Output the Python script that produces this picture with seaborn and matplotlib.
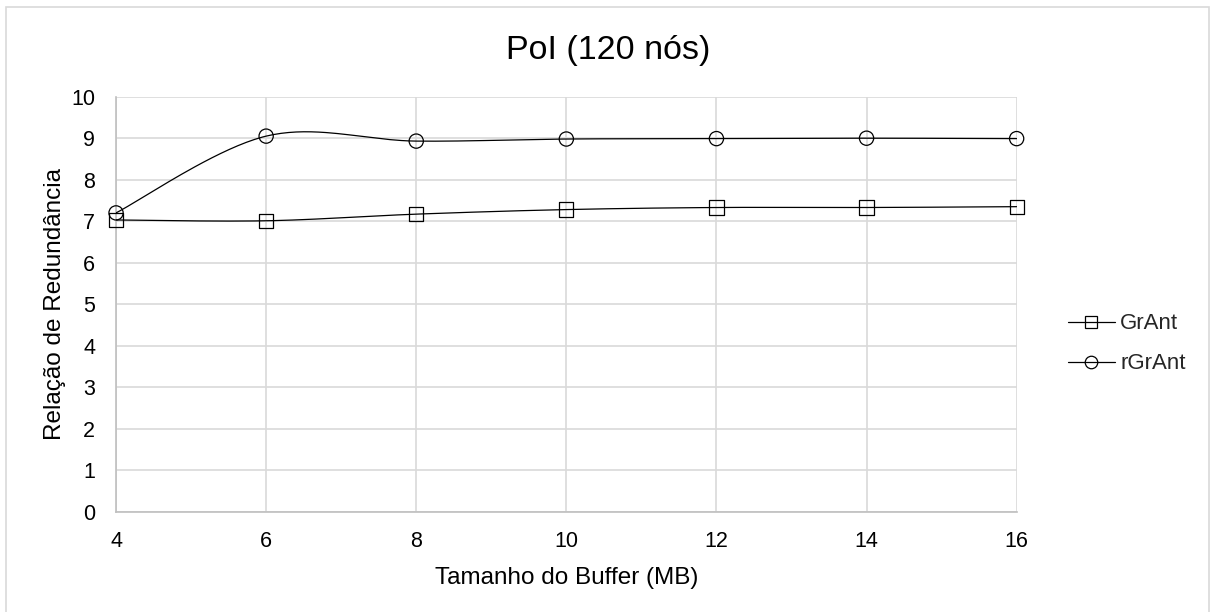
import numpy as np
import pandas as pd
import matplotlib
matplotlib.use("Agg")
import matplotlib.pyplot as plt
from matplotlib.lines import Line2D
from matplotlib.patches import Rectangle
import seaborn as sns

# Buffer sizes (MB) and redundancy ratios per protocol
buffer_mb = [4, 6, 8, 10, 12, 14, 16]
grant = [7.03, 7.01, 7.17, 7.28, 7.33, 7.33, 7.35]
rgrant = [7.20, 9.05, 8.93, 8.98, 8.99, 9.00, 8.99]

series_names = ["GrAnt", "rGrAnt"]
title = "PoI (120 nós)"
xlabel = "Tamanho do Buffer (MB)"
ylabel = "Relação de Redundância"

sns.set_theme(style="white")
plt.rcParams["font.family"] = ["Liberation Sans", "DejaVu Sans"]


def smooth_curve(xs, ys, steps=40):
    """Bezier smoothing through every point (spreadsheet-style smoothed line)."""
    pts = np.column_stack([xs, ys]).astype(float)
    n = len(pts)
    out = []
    for i in range(n - 1):
        p0 = pts[i - 1] if i > 0 else pts[i]
        p1 = pts[i]
        p2 = pts[i + 1]
        p3 = pts[i + 2] if i + 2 < n else pts[i + 1]
        c1 = p1 + (p2 - p0) / 6.0
        c2 = p2 - (p3 - p1) / 6.0
        t = np.linspace(0, 1, steps, endpoint=(i == n - 2))[:, None]
        seg = ((1 - t) ** 3) * p1 + 3 * ((1 - t) ** 2) * t * c1 \
            + 3 * (1 - t) * t ** 2 * c2 + t ** 3 * p2
        out.append(seg)
    out = np.vstack(out)
    return out[:, 0], out[:, 1]


fig = plt.figure(figsize=(12.1, 6.12), dpi=100)
ax = fig.add_axes([0.0959, 0.1639, 0.7443, 0.6781])

markers = {"GrAnt": "s", "rGrAnt": "o"}
values = {"GrAnt": grant, "rGrAnt": rgrant}

for name in series_names:
    sx, sy = smooth_curve(buffer_mb, values[name])
    curve = pd.DataFrame({"x": sx, "y": sy})
    sns.lineplot(data=curve, x="x", y="y", sort=False, color="black",
                 linewidth=0.9, ax=ax, legend=False, zorder=3)
    pts = pd.DataFrame({"x": buffer_mb, "y": values[name]})
    sns.scatterplot(data=pts, x="x", y="y", marker=markers[name], s=105,
                    facecolor="none", edgecolor="black", linewidth=0.9,
                    ax=ax, legend=False, zorder=4, clip_on=False)

ax.set_xlim(4, 16)
ax.set_ylim(0, 10)
ax.set_xticks(buffer_mb)
ax.set_yticks(range(0, 11))
ax.grid(True, color="#d9d9d9", linewidth=1.2)
ax.set_axisbelow(True)
for side in ["top", "right"]:
    ax.spines[side].set_visible(False)
for side in ["left", "bottom"]:
    ax.spines[side].set_color("#bfbfbf")
    ax.spines[side].set_linewidth(1.2)
ax.tick_params(axis="both", length=0, labelsize=15.5, colors="black", pad=15)
ax.tick_params(axis="x", pad=14)
ax.set_xlabel(xlabel, fontsize=17.5, color="black", labelpad=11)
ax.set_ylabel(ylabel, fontsize=17.5, color="black", labelpad=4)

fig.text(0.5025, 0.918, title, ha="center", va="center", fontsize=24.5,
         color="black")

handles = [Line2D([0], [0], color="black", linewidth=0.9,
                  marker=markers[name], markersize=9,
                  markerfacecolor="none", markeredgecolor="black",
                  markeredgewidth=0.9)
           for name in series_names]
fig.legend(handles, series_names, loc="center left",
           bbox_to_anchor=(0.866, 0.438), frameon=False, fontsize=16,
           handlelength=2.1, handletextpad=0.25, labelspacing=0.85)

fig.patches.append(Rectangle((0.005, -0.02), 0.994, 1.0086,
                             transform=fig.transFigure, fill=False,
                             edgecolor="#d9d9d9", linewidth=1.2))

fig.savefig("out.png", dpi=100)
